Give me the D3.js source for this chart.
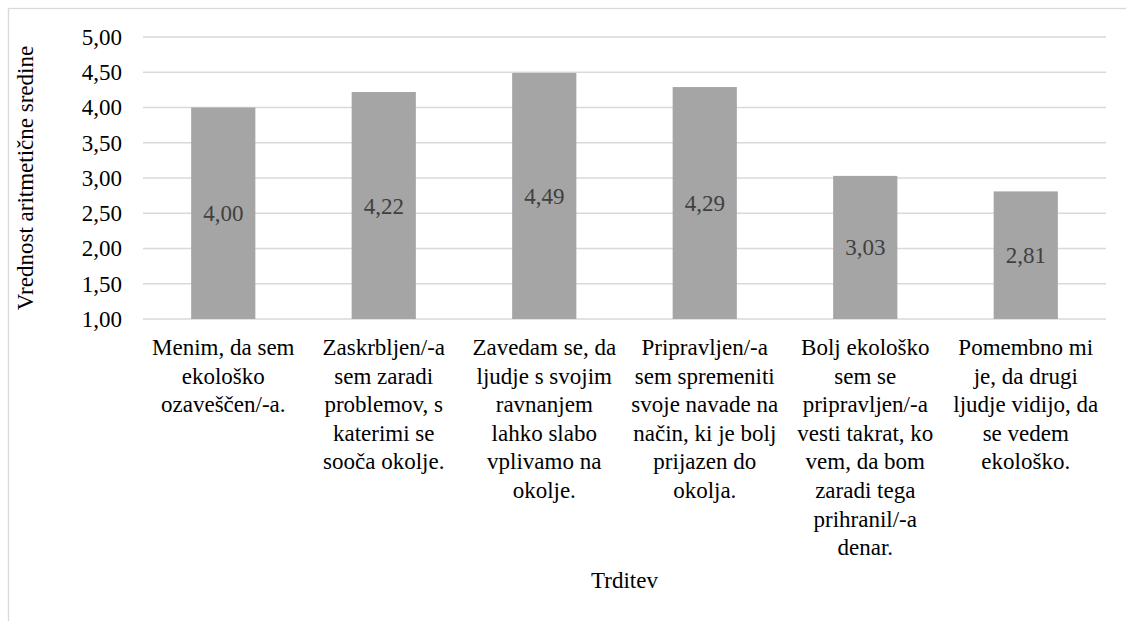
<!DOCTYPE html>
<html><head><meta charset="UTF-8"><script src="https://d3js.org/d3.v7.min.js"></script></head>
<body style="margin:0">
<svg width="1126" height="621"></svg>
<script>
// data
const categories = [
  ["Menim, da sem", "ekološko", "ozaveščen/-a."],
  ["Zaskrbljen/-a", "sem zaradi", "problemov, s", "katerimi se", "sooča okolje."],
  ["Zavedam se, da", "ljudje s svojim", "ravnanjem", "lahko slabo", "vplivamo na", "okolje."],
  ["Pripravljen/-a", "sem spremeniti", "svoje navade na", "način, ki je bolj", "prijazen do", "okolja."],
  ["Bolj ekološko", "sem se", "pripravljen/-a", "vesti takrat, ko", "vem, da bom", "zaradi tega", "prihranil/-a", "denar."],
  ["Pomembno mi", "je, da drugi", "ljudje vidijo, da", "se vedem", "ekološko."]
];
const values = [4.00, 4.22, 4.49, 4.29, 3.03, 2.81];
const yTicks = [1, 1.5, 2, 2.5, 3, 3.5, 4, 4.5, 5];

const FONT = 'Liberation Serif';
const FS = 23;

const svg = d3.select('svg');
const fmt = v => v.toFixed(2).replace('.', ',');

// outer chart border (runs off the right/bottom edge)
svg.append('rect')
    .attr('x', 8.5).attr('y', 8.5)
    .attr('width', 1130).attr('height', 630)
    .attr('fill', 'none')
    .attr('stroke', '#d9d9d9')
    .attr('stroke-width', 1.3);

const plot = { left: 143, right: 1106, top: 37, bottom: 319 };

const x = d3.scaleBand()
    .domain(d3.range(values.length))
    .range([plot.left, plot.right])
    .paddingInner(0.6)
    .paddingOuter(0.3);

const y = d3.scaleLinear()
    .domain([1, 5])
    .range([plot.bottom, plot.top]);

// gridlines
svg.append('g')
  .selectAll('line')
  .data(yTicks)
  .join('line')
    .attr('x1', plot.left).attr('x2', plot.right)
    .attr('y1', d => y(d)).attr('y2', d => y(d))
    .attr('stroke', '#d9d9d9')
    .attr('stroke-width', 1.3);

// y axis labels
const yAxis = svg.append('g')
    .attr('transform', `translate(${plot.left - 21},0)`)
    .call(d3.axisLeft(y).tickValues(yTicks).tickFormat(fmt).tickSize(0).tickPadding(0));
yAxis.select('.domain').remove();
yAxis.selectAll('text')
    .attr('font-family', FONT)
    .attr('font-size', FS)
    .attr('fill', '#000');

// bars
svg.append('g')
  .selectAll('rect')
  .data(values)
  .join('rect')
    .attr('x', (d, i) => x(i))
    .attr('y', d => y(d))
    .attr('width', x.bandwidth())
    .attr('height', d => y(1) - y(d))
    .attr('fill', '#a5a5a5');

// value labels
svg.selectAll('.val')
  .data(values)
  .join('text')
    .attr('class', 'val')
    .attr('x', (d, i) => x(i) + x.bandwidth() / 2)
    .attr('y', d => (y(d) + y(1)) / 2)
    .attr('dy', '0.35em')
    .attr('text-anchor', 'middle')
    .attr('font-family', FONT)
    .attr('font-size', FS)
    .attr('fill', '#404040')
    .text(fmt);

// category labels
const cat = svg.selectAll('.cat')
  .data(categories)
  .join('text')
    .attr('class', 'cat')
    .attr('text-anchor', 'middle')
    .attr('font-family', FONT)
    .attr('font-size', FS)
    .attr('fill', '#000')
    .attr('transform', (d, i) => `translate(${x(i) + x.bandwidth() / 2},${plot.bottom + 36})`);
cat.selectAll('tspan')
  .data(d => d)
  .join('tspan')
    .attr('x', 0)
    .attr('y', (d, j) => j * 28.6)
    .text(d => d);

// axis titles
svg.append('text')
    .attr('x', (plot.left + plot.right) / 2)
    .attr('y', 588)
    .attr('text-anchor', 'middle')
    .attr('font-family', FONT)
    .attr('font-size', FS)
    .attr('fill', '#000')
    .text('Trditev');

svg.append('text')
    .attr('transform', `translate(33,${(plot.top + plot.bottom) / 2}) rotate(-90)`)
    .attr('text-anchor', 'middle')
    .attr('font-family', FONT)
    .attr('font-size', FS)
    .attr('fill', '#000')
    .text('Vrednost aritmetične sredine');
</script>
</body>
</html>
